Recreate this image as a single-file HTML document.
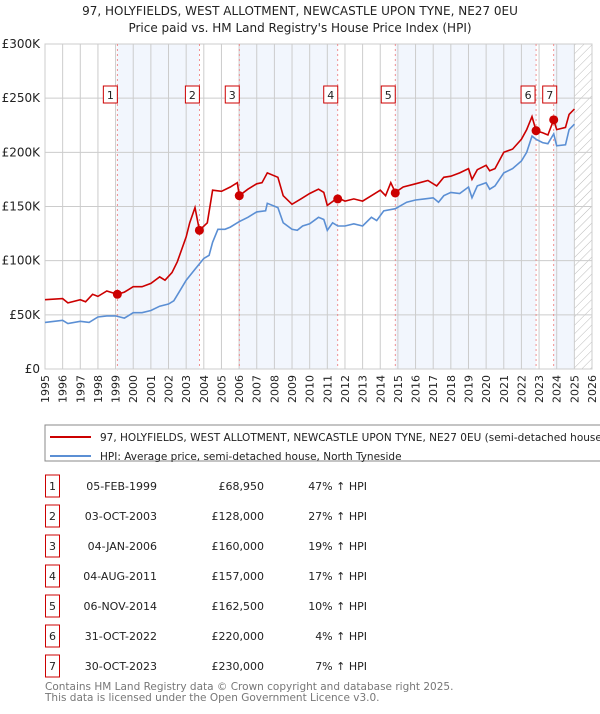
<!DOCTYPE html>
<html><head><meta charset="utf-8"><style>
body{margin:0;background:#fff;font-family:"DejaVu Sans","Liberation Sans",sans-serif;}
svg text{font-family:"DejaVu Sans","Liberation Sans",sans-serif;}
</style></head><body>
<svg id="c" width="600" height="710" viewBox="0 0 600 710" xmlns="http://www.w3.org/2000/svg">
<text x="300" y="15" text-anchor="middle" font-size="12" fill="#222">97, HOLYFIELDS, WEST ALLOTMENT, NEWCASTLE UPON TYNE, NE27 0EU</text>
<text x="300" y="32" text-anchor="middle" font-size="12" fill="#222">Price paid vs. HM Land Registry's House Price Index (HPI)</text>
<defs><pattern id="hatch" width="6" height="6" patternUnits="userSpaceOnUse" patternTransform="rotate(45)"><line x1="0" y1="0" x2="0" y2="6" stroke="#bbb" stroke-width="1"/></pattern></defs>
<g id="plot"></g>
<rect x="45" y="425" width="570" height="36" fill="#fff" stroke="#888"/>
<line x1="50" y1="437" x2="91" y2="437" stroke="#cc0000" stroke-width="2"/>
<text x="100" y="441" font-size="10.5" fill="#222">97, HOLYFIELDS, WEST ALLOTMENT, NEWCASTLE UPON TYNE, NE27 0EU (semi-detached house)</text>
<line x1="50" y1="456" x2="91" y2="456" stroke="#5b8fd4" stroke-width="2"/>
<text x="100" y="460" font-size="10.5" fill="#222">HPI: Average price, semi-detached house, North Tyneside</text>
<g id="table"></g>
<text x="45" y="690" font-size="10.5" fill="#777">Contains HM Land Registry data © Crown copyright and database right 2025.</text>
<text x="45" y="701" font-size="10.5" fill="#777">This data is licensed under the Open Government Licence v3.0.</text>
</svg>
<script>
const yTicks=[0,50,100,150,200,250,300];
const yTickLabels=["£0","£50K","£100K","£150K","£200K","£250K","£300K"];
const years=[];for(let y=1995;y<=2026;y++)years.push(y);
const saleYears=[1999.1,2003.75,2006.01,2011.59,2014.85,2022.83,2023.83];
const salePrices=[68.95,128,160,157,162.5,220,230];
const saleDates=["05-FEB-1999","03-OCT-2003","04-JAN-2006","04-AUG-2011","06-NOV-2014","31-OCT-2022","30-OCT-2023"];
const salePriceLabels=["£68,950","£128,000","£160,000","£157,000","£162,500","£220,000","£230,000"];
const saleHpi=["47%","27%","19%","17%","10%","4%","7%"];
const redT=[1995,1996,1996.3,1997,1997.3,1997.7,1998,1998.5,1999.1,1999.5,2000,2000.5,2001,2001.5,2001.8,2002.2,2002.5,2003,2003.2,2003.5,2003.75,2004.2,2004.5,2005,2005.5,2005.9,2006.01,2006.5,2007,2007.3,2007.6,2008.2,2008.5,2009,2009.5,2010,2010.5,2010.8,2011,2011.59,2012,2012.5,2013,2013.5,2014,2014.3,2014.6,2014.85,2015.3,2016,2016.7,2017.2,2017.6,2018,2018.5,2019,2019.2,2019.5,2020,2020.2,2020.5,2021,2021.5,2022,2022.3,2022.6,2022.83,2023.2,2023.5,2023.83,2024,2024.5,2024.7,2025];
const redV=[64,65,61,64,62,69,67,72,69,71,76,76,79,85,82,89,99,122,135,149,128,135,165,164,168,172,160,166,171,172,181,177,160,152,157,162,166,163,151,158,155,157,155,160,165,160,172,163,168,171,174,169,177,178,181,185,175,184,188,183,185,200,203,212,221,233,220,218,216,230,221,223,235,240];
const blueT=[1995,1996,1996.3,1997,1997.5,1998,1998.5,1999,1999.5,2000,2000.5,2001,2001.5,2002,2002.3,2002.6,2003,2003.5,2004,2004.3,2004.5,2004.8,2005.2,2005.5,2006,2006.5,2007,2007.5,2007.6,2008.2,2008.5,2009,2009.3,2009.6,2010,2010.5,2010.8,2011,2011.3,2011.6,2012,2012.5,2013,2013.5,2013.8,2014.2,2014.85,2015.5,2016,2016.5,2017,2017.3,2017.6,2018,2018.5,2019,2019.2,2019.5,2020,2020.2,2020.5,2021,2021.5,2022,2022.3,2022.6,2022.83,2023.2,2023.5,2023.83,2024,2024.5,2024.7,2025];
const blueV=[43,45,42,44,43,48,49,49,47,52,52,54,58,60,63,71,82,92,102,105,117,129,129,131,136,140,145,146,153,149,135,129,128,132,134,140,138,128,135,132,132,134,132,140,137,146,148,154,156,157,158,154,160,163,162,168,158,169,172,166,169,181,185,192,200,215,212,209,208,217,206,207,221,226];

const NS="http://www.w3.org/2000/svg";
const X0=45,X1=592,Y0=369,Y1=44;
const xs=t=>X0+(t-1995)/(2026-1995)*(X1-X0);
const ys=v=>Y0-v/300*(Y0-Y1);
const plot=document.getElementById('plot');
function mk(tag,attrs,parent){const e=document.createElementNS(NS,tag);for(const k in attrs)e.setAttribute(k,attrs[k]);(parent||plot).appendChild(e);return e;}
const bands=[[0,1],[2,3],[4,5],[6,null]];
bands.forEach(b=>{const a=saleYears[b[0]],e=b[1]===null?2025:saleYears[b[1]];
 const r=mk('rect',{x:xs(a),y:Y1,width:xs(e)-xs(a),height:Y0-Y1,fill:'#f2f6fd'});
 
 });
const h=mk('rect',{x:xs(2025),y:Y1,width:X1-xs(2025),height:Y0-Y1,fill:'url(#hatch)'});


years.forEach(y=>{mk('line',{x1:xs(y),y1:Y1,x2:xs(y),y2:Y0,stroke:'#ccc','stroke-width':1});
 const t=mk('text',{x:0,y:0,'font-size':11,fill:'#222','text-anchor':'end',transform:`translate(${xs(y)+4},${Y0+6}) rotate(-90)`});
 t.textContent=y;
 
 });
yTicks.forEach((v,i)=>{mk('line',{x1:X0,y1:ys(v),x2:X1,y2:ys(v),stroke:'#ccc','stroke-width':1});
 const t=mk('text',{x:X0-5,y:ys(v)+4,'font-size':12,fill:'#222','text-anchor':'end'});
 t.textContent=yTickLabels[i];
 
 });
mk('rect',{x:X0,y:Y1,width:X1-X0,height:Y0-Y1,fill:'none',stroke:'#ccc'});
saleYears.forEach((s,i)=>{const l=mk('line',{x1:xs(s),y1:Y1,x2:xs(s),y2:Y0,stroke:'#ee7777','stroke-width':0.8,'stroke-dasharray':'2,3'});
 
 });
function path(T,V,col,name){const d=T.map((t,i)=>(i?'L':'M')+xs(t).toFixed(1)+','+ys(V[i]).toFixed(1)).join('');
 const p=mk('path',{d:d,fill:'none',stroke:col,'stroke-width':1.6});
 
 }
path(blueT,blueV,'#5b8fd4','hpi-line');
path(redT,redV,'#cc0000','price-line');
saleYears.forEach((s,i)=>{const c=mk('circle',{cx:xs(s),cy:ys(salePrices[i]),r:4.5,fill:'#cc0000'});
 
 
 const bx=(i===5)?xs(s)-8:(i===6?xs(s)-4:xs(s)-7);
 const r=mk('rect',{x:bx-7,y:86,width:14,height:17,fill:'#fff',stroke:'#cc0000'});
 
 
 const t=mk('text',{x:bx,y:99,'font-size':11,fill:'#222','text-anchor':'middle'});
 t.textContent=i+1;
 
 });
const tb=document.getElementById('table');
saleDates.forEach((d,i)=>{const y=488+i*30;
 const r=mk('rect',{x:45.5,y:y-13,width:14,height:22,fill:'#fff',stroke:'#cc0000'},tb);
 
 
 const cells=[[52.5,String(i+1),'middle'],[157,d,'end'],[264,salePriceLabels[i],'end'],[367,saleHpi[i]+' \u2191 HPI','end']];
 cells.forEach(c=>{const t=mk('text',{x:c[0],y:y+2,'font-size':11,fill:'#222','text-anchor':c[2]},tb);
  t.textContent=c[1];
  
  });});
</script>
</body></html>
